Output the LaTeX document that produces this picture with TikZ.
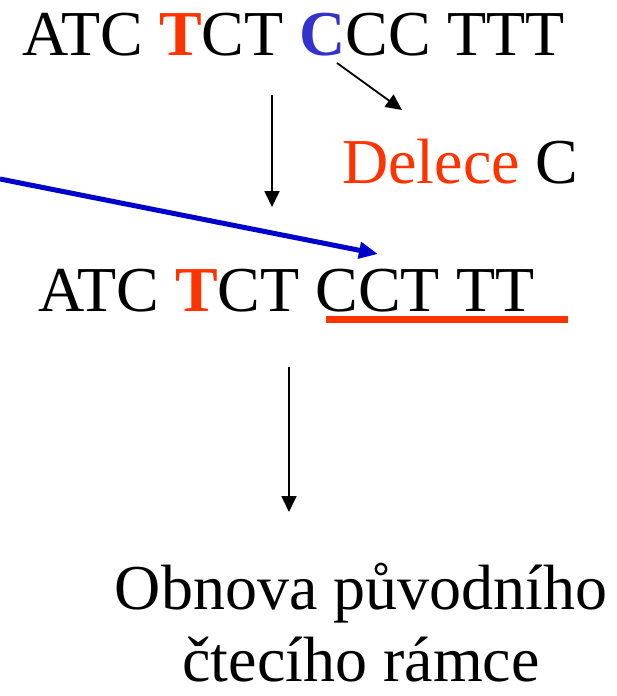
\documentclass[tikz,border=0pt]{standalone}
\usepackage{fontspec}
\setmainfont{Liberation Serif}
\usetikzlibrary{arrows.meta}
\definecolor{mred}{HTML}{FF3300}
\definecolor{mblue}{HTML}{3333CC}
\definecolor{ablue}{HTML}{0000CC}
\begin{document}
\begin{tikzpicture}[x=1pt,y=-1pt,
  txt/.style={inner sep=0pt, font=\fontsize{64}{72}\selectfont},
  thinarrow/.style={line width=1.8pt, -{Triangle[length=16pt,width=15pt]}},
  bluearrow/.style={draw=ablue, line width=5pt, -{Triangle[length=19pt,width=16pt]}}]
\useasboundingbox (0,0) rectangle (616,696);
\node[txt, anchor=base west] (top) at (22,55) {ATC \textcolor{mred}{\textbf{T}}CT \textcolor{mblue}{\textbf{C}}CC TTT};
\node[txt, anchor=base west] (del) at (342,183) {\textcolor{mred}{Delece} C};
\node[txt, anchor=base west] (mid) at (38,311) {ATC \textcolor{mred}{\textbf{T}}CT CCT TT};
\node[txt, align=center, anchor=base] (res) at (361,681) {Obnova původního\\čtecího rámce};
\coordinate (s1) at (337,63);
\coordinate (e1) at (402,110);
\coordinate (s2) at (272,95);
\coordinate (e2) at (272,207);
\coordinate (s3) at (0,179);
\coordinate (e3) at (378,254);
\coordinate (u1) at (326,319);
\coordinate (u2) at (568,319);
\coordinate (s4) at (289,367);
\coordinate (e4) at (289,512);
\draw[thinarrow] (s1) -- (e1);
\draw[thinarrow] (s2) -- (e2);
\draw[bluearrow] (s3) -- (e3);
\draw[mred, line width=7pt] (u1) -- (u2);
\draw[thinarrow] (s4) -- (e4);
\end{tikzpicture}
\end{document}
